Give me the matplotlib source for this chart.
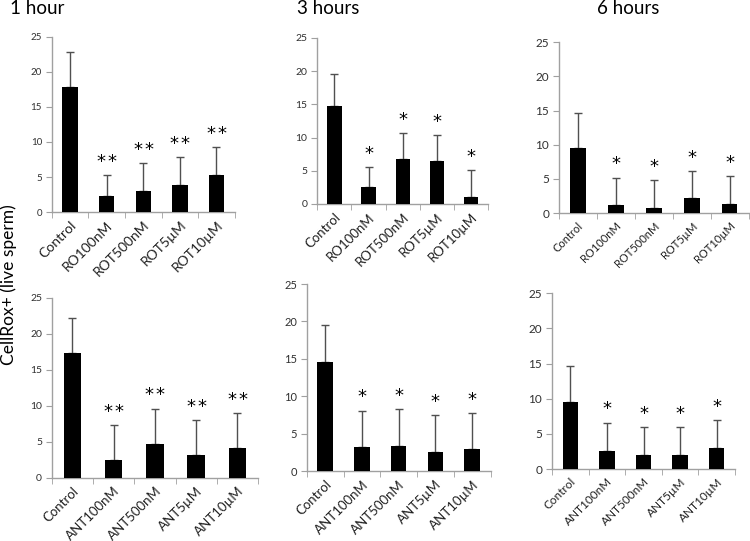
import matplotlib.pyplot as plt
import numpy as np

plt.rcParams['font.family'] = ['Lato', 'DejaVu Sans']

TITLES = ['1 hour', '3 hours', '6 hours']
ROT_LABELS = ['Control', 'RO100nM', 'ROT500nM', 'ROT5\u00b5M', 'ROT10\u00b5M']
ANT_LABELS = ['Control', 'ANT100nM', 'ANT500nM', 'ANT5\u00b5M', 'ANT10\u00b5M']

# rotenone, mean and upper error bar end, per time point
rot_1h = [17.9, 2.3, 3.0, 3.8, 5.3]
rot_1h_top = [22.8, 5.3, 7.0, 7.8, 9.3]
rot_3h = [14.7, 2.6, 6.7, 6.4, 1.1]
rot_3h_top = [19.5, 5.6, 10.7, 10.4, 5.1]
rot_6h = [9.6, 1.2, 0.8, 2.2, 1.4]
rot_6h_top = [14.6, 5.2, 4.8, 6.2, 5.4]

# antimycin
ant_1h = [17.3, 2.4, 4.7, 3.1, 4.1]
ant_1h_top = [22.2, 7.3, 9.6, 8.0, 9.0]
ant_3h = [14.6, 3.2, 3.4, 2.6, 2.9]
ant_3h_top = [19.5, 8.1, 8.3, 7.5, 7.8]
ant_6h = [9.6, 2.6, 2.0, 2.0, 3.0]
ant_6h_top = [14.6, 6.6, 6.0, 6.0, 7.0]

# number of significance stars per time point
N_STARS = [2, 1, 1]

# axes rectangles in figure fractions
RECTS = [
    [0.069, 0.608, 0.244, 0.324],
    [0.423, 0.623, 0.228, 0.307],
    [0.745, 0.606, 0.253, 0.316],
    [0.069, 0.117, 0.275, 0.333],
    [0.409, 0.129, 0.245, 0.346],
    [0.736, 0.133, 0.244, 0.325],
]
YTICK_SIZE = [7, 7.5, 8.5, 7.5, 8, 8.5]
XTICK_SIZE = [10, 9.5, 8, 9.5, 9.5, 8.5]

panels = [
    (rot_1h, rot_1h_top, ROT_LABELS, N_STARS[0]),
    (rot_3h, rot_3h_top, ROT_LABELS, N_STARS[1]),
    (rot_6h, rot_6h_top, ROT_LABELS, N_STARS[2]),
    (ant_1h, ant_1h_top, ANT_LABELS, N_STARS[0]),
    (ant_3h, ant_3h_top, ANT_LABELS, N_STARS[1]),
    (ant_6h, ant_6h_top, ANT_LABELS, N_STARS[2]),
]

fig = plt.figure(figsize=(7.5, 5.41), dpi=100)

for i, (vals, tops, labels, n_stars) in enumerate(panels):
    ax = fig.add_axes(RECTS[i])
    x = np.arange(len(vals))
    vals = np.array(vals)
    tops = np.array(tops)

    ax.errorbar(x, vals, yerr=[np.zeros_like(vals), tops - vals], fmt='none',
                ecolor='#505050', elinewidth=1, capsize=3, capthick=1, zorder=2)
    ax.bar(x, vals, width=0.42, color='black', zorder=3)

    offsets = [-4, 4] if n_stars == 2 else [0]
    for xi in x[1:]:
        for dx in offsets:
            ax.annotate('*', (xi, tops[xi]), xytext=(dx, 3), textcoords='offset points',
                        ha='center', va='bottom', fontsize=13, family='DejaVu Sans',
                        color='black')

    ax.set_xlim(-0.5, len(vals) - 0.5)
    ax.set_ylim(0, 25)
    ax.set_yticks(range(0, 26, 5))
    ax.set_xticks(x)
    ax.set_xticklabels(labels, rotation=45, ha='right', rotation_mode='anchor',
                       fontsize=XTICK_SIZE[i], color='#202020')
    ax.set_xticks(np.arange(-0.5, len(vals)), minor=True)
    ax.tick_params(axis='x', which='major', length=0, pad=5)
    ax.tick_params(axis='x', which='minor', length=4, color='#a0a0a0')
    ax.tick_params(axis='y', length=4, color='#a0a0a0', labelsize=YTICK_SIZE[i],
                   labelcolor='#303030', pad=3)

    for side in ['top', 'right']:
        ax.spines[side].set_visible(False)
    for side in ['left', 'bottom']:
        ax.spines[side].set_color('#a0a0a0')
        ax.spines[side].set_linewidth(1)
    ax.set_facecolor('none')

fig.text(0.013, 1 - 8 / 541, TITLES[0], ha='left', va='center', fontsize=13.5)
fig.text(297 / 750, 1 - 8 / 541, TITLES[1], ha='left', va='center', fontsize=13.5)
fig.text(597 / 750, 1 - 9 / 541, TITLES[2], ha='left', va='center', fontsize=13.5)
fig.text(0.012, 1 - 285 / 541, 'CellRox+ (live sperm)', rotation=90,
         ha='center', va='center', fontsize=12.5)

fig.savefig('out.png', dpi=100)
